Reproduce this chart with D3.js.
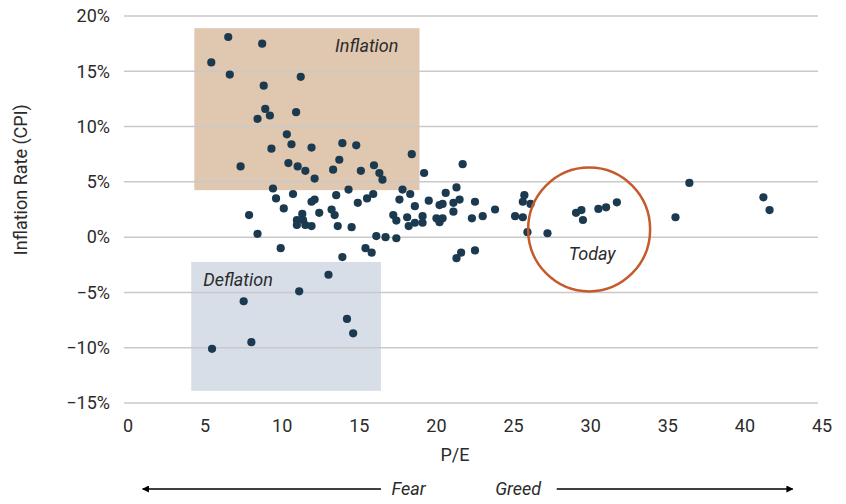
<!DOCTYPE html>
<html>
<head>
<meta charset="utf-8">
<script src="https://cdn.jsdelivr.net/npm/d3@7"></script>
<style>
  body { margin: 0; background: #fff; }
  text { font-family: Roboto, "Noto Sans", sans-serif; fill: #2b2b2b; }
</style>
</head>
<body>
<div id="chart"></div>
<script>
// P/E vs inflation rate (CPI), one point per period
const pe = [
  5.4, 6.5, 6.6, 8.7, 8.8, 8.9, 9.2, 8.4, 11.2, 10.9,
  7.3, 9.3, 10.3, 10.6, 10.4, 11.0, 11.5, 12.1, 11.9, 13.3,
  13.7, 13.9, 14.8, 15.1, 15.95, 16.3, 16.5, 18.4, 19.2, 21.7,
  9.4, 9.6, 10.7, 10.1, 11.9, 12.1, 13.5, 14.3, 14.9, 15.5,
  15.9, 17.6, 17.8, 18.3, 18.6, 19.5, 12.4, 13.2, 7.85, 8.4,
  9.9, 11.3, 10.95, 11.35, 10.95, 11.5, 11.9, 13.4, 13.6, 14.5,
  13.9, 15.4, 15.8, 16.1, 16.7, 17.4, 17.2, 17.4, 18.2, 18.1,
  18.6, 19.1, 19.1, 20.2, 20.0, 20.4, 20.2, 21.3, 20.6, 20.4,
  21.1, 21.5, 21.1, 22.5, 22.3, 23.0, 23.8, 25.1, 25.6, 25.7,
  25.6, 26.1, 25.9, 27.2, 21.6, 22.5, 21.3, 29.05, 29.4, 29.5,
  30.5, 31.0, 31.7, 35.5, 36.4, 41.2, 41.6,
  5.45, 7.5, 8.0, 11.1, 13.0, 14.2, 14.6
];
const cpi = [
  15.8, 18.1, 14.7, 17.5, 13.7, 11.6, 11.0, 10.7, 14.5, 11.3,
  6.4, 8.0, 9.3, 8.4, 6.7, 6.4, 6.0, 5.3, 8.1, 6.1,
  7.0, 8.5, 8.3, 6.0, 6.5, 5.8, 5.2, 7.5, 5.8, 6.6,
  4.4, 3.5, 3.9, 2.6, 3.2, 3.4, 3.8, 4.3, 3.1, 3.5,
  3.9, 3.4, 4.3, 3.9, 2.8, 3.3, 2.2, 2.5, 2.0, 0.3,
  -1.0, 2.1, 1.55, 1.55, 1.1, 1.1, 1.0, 2.0, 1.0, 0.9,
  -1.8, -1.0, -1.4, 0.1, 0.0, -0.1, 2.0, 1.5, 1.0, 1.8,
  1.3, 1.3, 1.9, 2.9, 1.7, 1.7, 1.35, 4.5, 4.0, 3.0,
  3.1, 3.4, 2.3, 3.2, 1.7, 1.9, 2.5, 1.9, 1.8, 3.8,
  3.2, 3.0, 0.45, 0.35, -1.4, -1.2, -1.9, 2.2, 2.45, 1.55,
  2.55, 2.7, 3.15, 1.8, 4.9, 3.6, 2.45,
  -10.1, -5.8, -9.5, -4.9, -3.4, -7.4, -8.7
];

const xTicks = [0, 5, 10, 15, 20, 25, 30, 35, 40, 45];
const yTicks = [-15, -10, -5, 0, 5, 10, 15, 20];

// shaded zones [pe0, pe1, cpi0, cpi1] and the "today" circle
const inflationZone = [4.3, 18.9, 4.25, 18.9];
const deflationZone = [4.1, 16.4, -13.9, -2.25];
const today = {pe: 29.9, cpi: 0.7};

const width = 846, height = 504;
const fs = "18px";

const svg = d3.select("#chart")
  .append("svg")
  .attr("width", width)
  .attr("height", height);

const x = d3.scaleLinear().domain([0, 45]).range([128, 822]);
const y = d3.scaleLinear().domain([-15, 20]).range([403, 16]);

// zones
svg.append("rect")
  .attr("x", x(inflationZone[0]))
  .attr("y", y(inflationZone[3]))
  .attr("width", x(inflationZone[1]) - x(inflationZone[0]))
  .attr("height", y(inflationZone[2]) - y(inflationZone[3]))
  .attr("fill", "#e0c8b0");

svg.append("rect")
  .attr("x", x(deflationZone[0]))
  .attr("y", y(deflationZone[3]))
  .attr("width", x(deflationZone[1]) - x(deflationZone[0]))
  .attr("height", y(deflationZone[2]) - y(deflationZone[3]))
  .attr("fill", "#d7dee8");

// gridlines
svg.append("g")
  .selectAll("line")
  .data(yTicks)
  .join("line")
  .attr("x1", x(0) - 4)
  .attr("x2", x(45) - 4)
  .attr("y1", d => y(d))
  .attr("y2", d => y(d))
  .attr("stroke", "#c9c9c9")
  .attr("stroke-width", 1.5);

// y tick labels
svg.append("g")
  .selectAll("text")
  .data(yTicks)
  .join("text")
  .attr("x", 110)
  .attr("y", d => y(d))
  .attr("dy", "0.35em")
  .attr("text-anchor", "end")
  .style("font-size", fs)
  .text(d => (d < 0 ? "\u2212" + Math.abs(d) : d) + "%");

// x tick labels
svg.append("g")
  .selectAll("text")
  .data(xTicks)
  .join("text")
  .attr("x", d => x(d))
  .attr("y", 432)
  .attr("text-anchor", "middle")
  .style("font-size", fs)
  .text(d => d);

// axis titles
svg.append("text")
  .attr("x", x(22.5) - 20)
  .attr("y", 461)
  .attr("text-anchor", "middle")
  .style("font-size", fs)
  .text("P/E");

svg.append("text")
  .attr("transform", `translate(27, ${y(5.2)}) rotate(-90)`)
  .attr("text-anchor", "middle")
  .style("font-size", fs)
  .text("Inflation Rate (CPI)");

// points
const points = pe.map((d, i) => ({pe: d, cpi: cpi[i]}));
svg.append("g")
  .selectAll("circle")
  .data(points)
  .join("circle")
  .attr("cx", d => x(d.pe))
  .attr("cy", d => y(d.cpi))
  .attr("r", 4.1)
  .attr("fill", "#1c3a4f");

// today circle
svg.append("ellipse")
  .attr("cx", x(today.pe))
  .attr("cy", y(today.cpi))
  .attr("rx", 61)
  .attr("ry", 62)
  .attr("fill", "none")
  .attr("stroke", "#c55a2c")
  .attr("stroke-width", 2.5);

// zone labels
svg.append("text")
  .attr("x", x(inflationZone[1]) - 21)
  .attr("y", y(inflationZone[3]) + 24)
  .attr("text-anchor", "end")
  .style("font-size", fs)
  .style("font-style", "italic")
  .text("Inflation");

svg.append("text")
  .attr("x", x(deflationZone[0]) + 12)
  .attr("y", y(deflationZone[3]) + 24)
  .style("font-size", fs)
  .style("font-style", "italic")
  .text("Deflation");

svg.append("text")
  .attr("x", x(today.pe) + 3)
  .attr("y", y(today.cpi) + 31)
  .attr("text-anchor", "middle")
  .style("font-size", fs)
  .style("font-style", "italic")
  .text("Today");

// fear / greed arrows
const defs = svg.append("defs");
defs.append("marker")
  .attr("id", "arrow")
  .attr("viewBox", "0 0 10 10")
  .attr("refX", 9)
  .attr("refY", 5)
  .attr("markerWidth", 7)
  .attr("markerHeight", 7)
  .attr("markerUnits", "userSpaceOnUse")
  .attr("orient", "auto")
  .append("path")
  .attr("d", "M0,0 L10,5 L0,10 z")
  .attr("fill", "#000");

const arrowY = 489;
svg.append("line")
  .attr("x1", x(16.4)).attr("x2", x(0.95))
  .attr("y1", arrowY).attr("y2", arrowY)
  .attr("stroke", "#000").attr("stroke-width", 1.3)
  .attr("marker-end", "url(#arrow)");

svg.append("line")
  .attr("x1", x(27.8)).attr("x2", x(43.1))
  .attr("y1", arrowY).attr("y2", arrowY)
  .attr("stroke", "#000").attr("stroke-width", 1.3)
  .attr("marker-end", "url(#arrow)");

svg.append("text")
  .attr("x", x(18.2))
  .attr("y", 495)
  .attr("text-anchor", "middle")
  .style("font-size", fs)
  .style("font-style", "italic")
  .text("Fear");

svg.append("text")
  .attr("x", x(25.3))
  .attr("y", 495)
  .attr("text-anchor", "middle")
  .style("font-size", fs)
  .style("font-style", "italic")
  .text("Greed");
</script>
</body>
</html>
